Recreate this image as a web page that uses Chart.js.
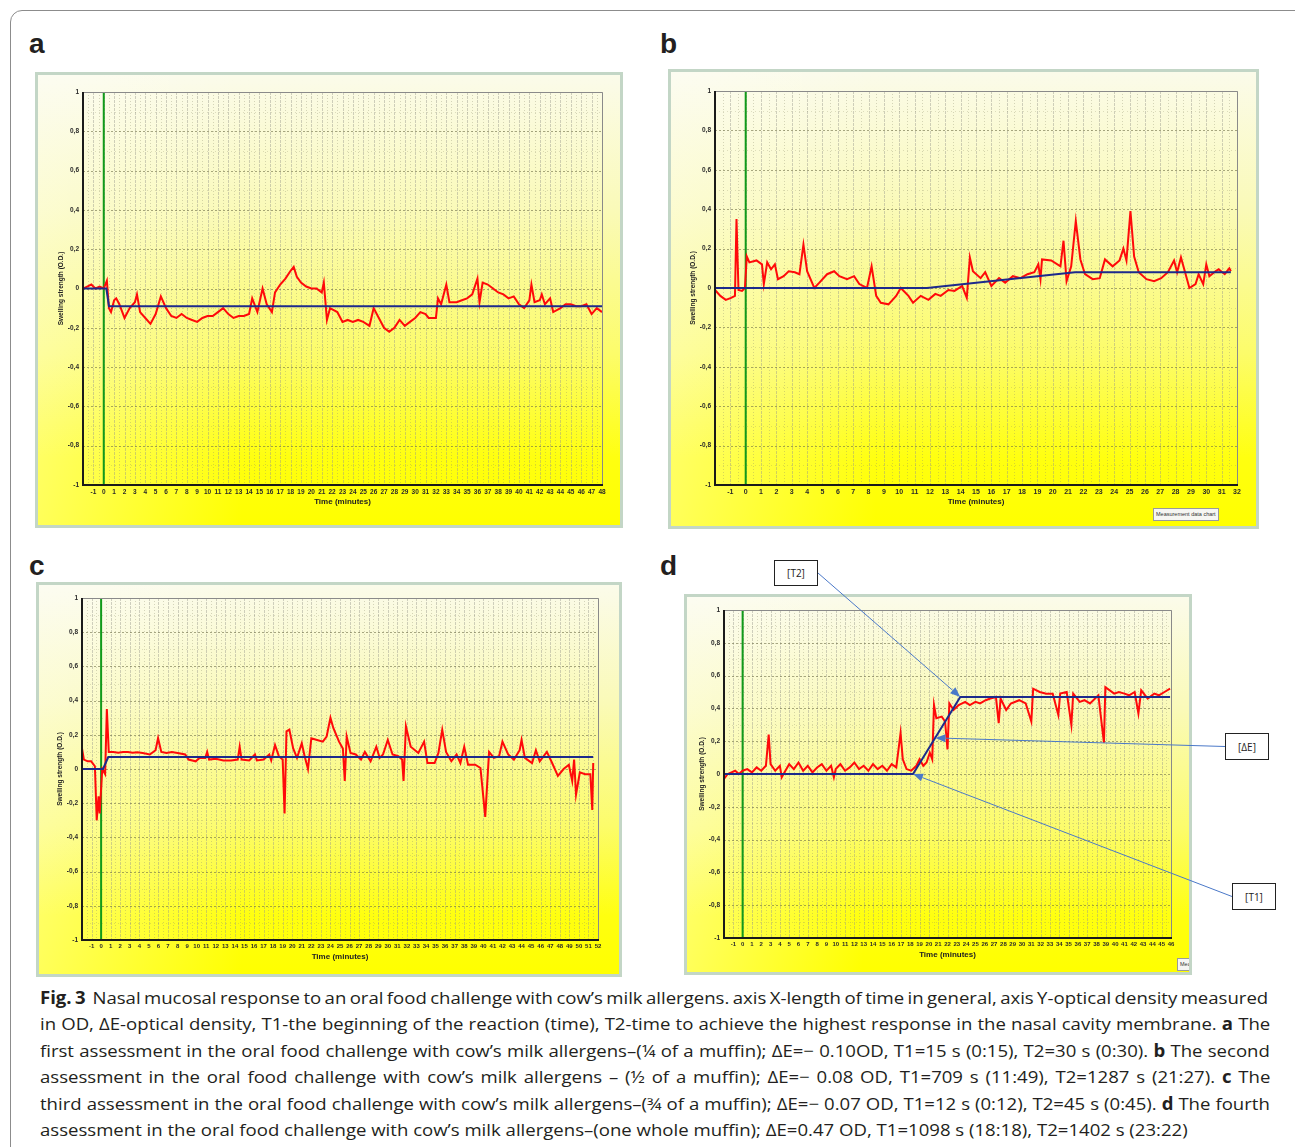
<!DOCTYPE html>
<html>
<head>
<meta charset="utf-8">
<script src="https://cdn.jsdelivr.net/npm/chart.js@4.4.1/dist/chart.umd.min.js"></script>
<style>
  body { margin: 0; background: #fff; width: 1295px; height: 1147px; position: relative; overflow: hidden; font-family: 'Open Sans', sans-serif; }
  .figbox { position: absolute; left: 10px; top: 10px; width: 1300px; height: 1200px; border: 1px solid #8c8c8c; border-radius: 12px; }
  .letter { position: absolute; font: bold 28px 'Liberation Sans', Arial, sans-serif; color: #231f20; line-height: 1; }
  .panel { position: absolute; box-sizing: border-box; border: 3px solid #c3d6c6; overflow: hidden;
    background:
      linear-gradient(to right, rgba(255,255,255,0.35), rgba(255,255,255,0) 35%),
      linear-gradient(to bottom, #fbfbea 0%, #fafab8 30%, #fcfc6a 62%, #ffff10 85%, #ffff00 100%); }
  .panel canvas { position: absolute; left: 0; top: 0; }
  .tag { position: absolute; box-sizing: border-box; background: #fff; border: 1px solid #222; font: 10px 'Open Sans', sans-serif; color: #222;
    display: flex; align-items: center; justify-content: center; z-index: 6; }
  .mdc { position: absolute; box-sizing: border-box; background: #f6f6f2; border: 1px solid #9a9a9a; font: 5.5px 'Liberation Sans', sans-serif; color: #333;
    line-height: 11px; padding: 0 2px; white-space: nowrap; }
  .cap { position: absolute; left: 40px; white-space: nowrap; font-size: 17px; color: #231f20; transform-origin: 0 50%; line-height: 24px; }
  #overlay { position: absolute; left: 0; top: 0; pointer-events: none; z-index: 5; }
</style>
</head>
<body>
<div class="figbox"></div>

<div class="letter" style="left:29px; top:30px;">a</div>
<div class="letter" style="left:660px; top:30px;">b</div>
<div class="letter" style="left:29px; top:552px;">c</div>
<div class="letter" style="left:660px; top:552px;">d</div>

<div class="panel" id="panel-a"><canvas></canvas></div>
<div class="panel" id="panel-b"><canvas></canvas></div>
<div class="panel" id="panel-c"><canvas></canvas></div>
<div class="panel" id="panel-d"><canvas></canvas><div class="mdc" style="left:490px; top:361px;">Measurement data chart</div></div>

<div class="mdc" style="left:1153px; top:508px;">Measurement data chart</div>

<div class="tag" id="tagT2" style="left:774px; top:560px; width:44px; height:26px;">[T2]</div>
<div class="tag" id="tagDE" style="left:1225px; top:733px; width:44px; height:27px;">[ΔE]</div>
<div class="tag" id="tagT1" style="left:1232px; top:883px; width:44px; height:27px;">[T1]</div>

<canvas id="overlay" width="1295" height="1147"></canvas>

<div class="cap" style="top:986px;"><b>Fig. 3</b>&nbsp; Nasal mucosal response to an oral food challenge with cow’s milk allergens. axis X-length of time in general, axis Y-optical density measured</div>
<div class="cap" style="top:1012px;">in OD, ΔE-optical density, T1-the beginning of the reaction (time), T2-time to achieve the highest response in the nasal cavity membrane. <b>a</b> The</div>
<div class="cap" style="top:1039px;">first assessment in the oral food challenge with cow’s milk allergens–(¼ of a muffin); ΔE=− 0.10OD, T1=15 s (0:15), T2=30 s (0:30). <b>b</b> The second</div>
<div class="cap" style="top:1065px;">assessment in the oral food challenge with cow’s milk allergens – (½ of a muffin); ΔE=− 0.08 OD, T1=709 s (11:49), T2=1287 s (21:27). <b>c</b> The</div>
<div class="cap" style="top:1092px;">third assessment in the oral food challenge with cow’s milk allergens–(¾ of a muffin); ΔE=− 0.07 OD, T1=12 s (0:12), T2=45 s (0:45). <b>d</b> The fourth</div>
<div class="cap" style="top:1118px;">assessment in the oral food challenge with cow’s milk allergens–(one whole muffin); ΔE=0.47 OD, T1=1098 s (18:18), T2=1402 s (23:22)</div>

<script>
// ---- panel a ----
const aTime = [-2, -1.6, -1.2, -0.8, -0.4, 0, 0.3, 0.5, 0.7, 1.0, 1.2, 1.5, 2.0, 2.5, 3.0, 3.2, 3.5, 4.0, 4.5, 5.0,
  5.5, 6.0, 6.5, 7.0, 7.5, 8.0, 8.5, 9.0, 9.5, 10.0, 10.5, 11.0, 11.5, 12.0, 12.5, 13.0, 13.5, 14.0, 14.3, 14.8,
  15.3, 15.7, 16.2, 16.5, 17.0, 17.5, 18.0, 18.3, 18.6, 19.0, 19.5, 20.0, 20.5, 21.0, 21.2, 21.5, 21.8, 22.5, 23.0, 23.5,
  24.0, 24.5, 25.0, 25.6, 26.0, 26.5, 27.0, 27.5, 28.0, 28.5, 29.0, 29.5, 30.0, 30.5, 31.0, 31.3, 32.0, 32.2, 32.5, 33.0,
  33.3, 34.0, 34.5, 35.0, 35.5, 36.0, 36.2, 36.5, 37.0, 37.5, 38.0, 38.5, 39.0, 39.5, 40.0, 40.5, 41.0, 41.2, 41.5, 42.0,
  42.2, 42.5, 43.0, 43.3, 44.0, 44.5, 45.0, 45.5, 46.0, 46.5, 47.0, 47.5, 48.0];
const aRed = [0.0, 0.01, 0.02, 0.0, 0.01, 0.0, 0.04, -0.1, -0.12, -0.06, -0.05, -0.08, -0.15, -0.1, -0.07, -0.03, -0.12, -0.15, -0.18, -0.13,
  -0.04, -0.1, -0.14, -0.15, -0.13, -0.15, -0.16, -0.17, -0.15, -0.14, -0.14, -0.12, -0.1, -0.13, -0.15, -0.14, -0.14, -0.13, -0.05, -0.12,
  0.0, -0.08, -0.12, -0.02, 0.02, 0.05, 0.09, 0.11, 0.06, 0.03, 0.01, 0.0, 0.0, -0.02, 0.03, -0.16, -0.1, -0.12, -0.17, -0.16,
  -0.17, -0.16, -0.17, -0.19, -0.1, -0.15, -0.2, -0.22, -0.2, -0.16, -0.19, -0.17, -0.15, -0.12, -0.13, -0.15, -0.15, -0.05, -0.08, 0.02,
  -0.07, -0.07, -0.06, -0.05, -0.03, 0.05, -0.07, 0.03, 0.02, 0.0, -0.02, -0.03, -0.05, -0.04, -0.08, -0.1, -0.06, 0.02, -0.07, -0.06,
  -0.03, -0.08, -0.05, -0.12, -0.1, -0.08, -0.08, -0.09, -0.09, -0.08, -0.13, -0.1, -0.12];
const aFitTime = [-2, 0.25, 0.5, 48];
const aFit = [0, 0, -0.09, -0.09];

// ---- panel b ----
const bTime = [-2, -1.65, -1.3, -0.95, -0.7, -0.6, -0.47, -0.24, -0.05, 0.07, 0.24, 0.7, 1.06, 1.18, 1.4, 1.65, 1.9, 2.1, 2.47, 2.8,
  3.2, 3.5, 3.76, 4.0, 4.47, 4.8, 5.3, 5.76, 6.1, 6.6, 7.06, 7.4, 7.9, 8.2, 8.5, 8.8, 9.3, 9.8, 10.1, 10.6,
  10.9, 11.4, 11.9, 12.35, 12.7, 13.2, 13.6, 14.1, 14.4, 14.6, 14.8, 15.3, 15.6, 16.0, 16.5, 16.9, 17.4, 17.9, 18.35, 18.8,
  19.06, 19.2, 19.3, 19.9, 20.5, 20.7, 20.9, 21.2, 21.5, 21.8, 22.1, 22.6, 23.06, 23.4, 23.9, 24.35, 24.6, 24.8, 25.06, 25.3,
  25.6, 26.1, 26.6, 27.06, 27.5, 27.9, 28.1, 28.35, 28.6, 28.9, 29.3, 29.5, 29.8, 30.0, 30.2, 30.6, 30.8, 31.2, 31.5, 31.6];
const bRed = [-0.01, -0.04, -0.06, -0.05, -0.04, 0.35, -0.01, -0.015, 0.0, 0.16, 0.13, 0.14, 0.12, 0.02, 0.13, 0.095, 0.12, 0.045, 0.06, 0.085,
  0.08, 0.07, 0.22, 0.085, 0.0, 0.027, 0.07, 0.085, 0.06, 0.045, 0.06, 0.02, 0.0, 0.11, -0.04, -0.075, -0.083, -0.04, 0.0, -0.04,
  -0.075, -0.04, -0.06, -0.03, -0.04, -0.01, -0.015, 0.01, -0.05, 0.155, 0.085, 0.05, 0.08, 0.01, 0.05, 0.027, 0.06, 0.05, 0.07, 0.08,
  0.12, 0.045, 0.145, 0.14, 0.11, 0.24, 0.035, 0.11, 0.34, 0.145, 0.07, 0.045, 0.05, 0.145, 0.11, 0.14, 0.2, 0.14, 0.39, 0.16,
  0.08, 0.045, 0.035, 0.05, 0.08, 0.14, 0.08, 0.155, 0.085, 0.0, 0.02, 0.07, 0.02, 0.12, 0.06, 0.085, 0.095, 0.07, 0.1, 0.085];
const bFitTime = [-2, 11.8, 21.45, 31.6];
const bFit = [0, 0, 0.08, 0.08];

// ---- panel c ----
const cTime = [-2, -1.8, -1.4, -1.04, -0.65, -0.46, -0.27, -0.15, 0.12, 0.42, 0.6, 0.8, 1.27, 1.8, 2.3, 2.8, 3.3, 3.8, 4.35, 5.1,
  5.7, 5.96, 6.3, 6.85, 7.4, 8.0, 8.8, 9.15, 9.9, 10.3, 10.9, 11.1, 11.3, 12.0, 12.8, 13.6, 14.3, 14.5, 14.7, 15.5,
  16.1, 16.3, 17.0, 17.6, 17.8, 18.2, 18.6, 19.0, 19.2, 19.4, 19.7, 20.1, 20.5, 21.0, 21.3, 21.65, 22.0, 22.6, 23.2, 23.6,
  24.0, 24.3, 24.9, 25.3, 25.5, 25.7, 26.1, 26.65, 27.2, 27.6, 28.2, 28.8, 29.15, 29.5, 30.0, 30.5, 31.1, 31.5, 31.65, 31.9,
  32.4, 33.2, 33.8, 34.15, 34.9, 35.3, 35.7, 36.1, 36.65, 37.2, 37.6, 38.0, 38.4, 39.15, 39.7, 40.2, 40.6, 41.1, 41.65, 42.0,
  42.6, 43.2, 43.8, 44.0, 44.35, 45.1, 45.5, 45.9, 46.65, 47.2, 47.8, 48.4, 48.95, 49.3, 49.5, 49.7, 50.1, 50.65, 51.2, 51.4,
  51.5];
const cRed = [0.12, 0.055, 0.045, 0.045, 0.016, -0.3, -0.16, -0.26, 0.0, -0.03, 0.35, 0.1, 0.1, 0.095, 0.1, 0.1, 0.095, 0.098, 0.094, 0.085,
  0.11, 0.18, 0.1, 0.094, 0.1, 0.094, 0.085, 0.055, 0.045, 0.065, 0.065, 0.1, 0.055, 0.06, 0.05, 0.05, 0.055, 0.13, 0.055, 0.05,
  0.085, 0.05, 0.055, 0.085, 0.05, 0.14, 0.075, 0.055, -0.26, 0.22, 0.23, 0.12, 0.065, 0.15, 0.075, 0.0, 0.18, 0.17, 0.16, 0.19,
  0.3, 0.24, 0.16, 0.12, -0.07, 0.19, 0.094, 0.085, 0.055, 0.1, 0.045, 0.13, 0.065, 0.085, 0.17, 0.085, 0.075, 0.055, -0.07, 0.25,
  0.13, 0.094, 0.16, 0.035, 0.035, 0.094, 0.23, 0.1, 0.045, 0.085, 0.035, 0.13, 0.025, 0.025, 0.006, -0.28, 0.1, 0.065, 0.075, 0.16,
  0.085, 0.055, 0.11, 0.17, 0.065, 0.035, 0.11, 0.045, 0.1, 0.035, -0.04, 0.0, 0.025, -0.07, 0.055, -0.15, -0.02, -0.03, -0.03, -0.24,
  0.035];
const cFitTime = [-2, 0.2, 0.75, 51.5];
const cFit = [0, 0, 0.07, 0.07];

// ---- panel d ----
const dTime = [-2, -1.6, -1.2, -0.8, -0.4, 0, 0.5, 1, 1.5, 2, 2.5, 2.8, 3.0, 3.5, 4, 4.2, 4.5, 5, 5.5, 6,
  6.5, 7, 7.5, 8, 8.5, 9, 9.5, 9.8, 10, 10.5, 11, 11.5, 12, 12.5, 13, 13.5, 14, 14.5, 15, 15.5,
  16, 16.5, 16.96, 17.2, 17.6, 18.1, 18.66, 19.0, 19.4, 19.75, 20.1, 20.36, 20.55, 20.8, 21.38, 21.74, 22.0, 22.2, 22.65, 23.2,
  23.9, 24.4, 25.0, 25.5, 26.1, 26.6, 27.2, 27.5, 27.7, 28.3, 28.8, 29.7, 30.4, 31.0, 31.2, 31.9, 32.6, 33.3, 33.9, 34.1,
  34.8, 35.3, 35.5, 36.2, 36.7, 37.3, 38.2, 38.8, 38.95, 39.9, 40.4, 41.0, 41.5, 42.1, 42.5, 42.8, 43.5, 44.2, 44.7, 45.3,
  45.9];
const dRed = [-0.03, 0.0, 0.01, 0.02, 0.0, 0.02, 0.03, 0.01, 0.04, 0.02, 0.05, 0.24, 0.06, 0.02, 0.05, -0.02, 0.01, 0.06, 0.03, 0.07,
  0.02, 0.05, 0.01, 0.04, 0.06, 0.02, 0.05, -0.02, 0.03, 0.06, 0.02, 0.04, 0.07, 0.03, 0.05, 0.02, 0.06, 0.03, 0.05, 0.02,
  0.06, 0.04, 0.25, 0.09, 0.03, 0.02, 0.05, 0.09, 0.05, 0.07, 0.13, 0.09, 0.42, 0.34, 0.35, 0.32, 0.15, 0.43, 0.39, 0.42,
  0.44, 0.42, 0.44, 0.43, 0.45, 0.46, 0.47, 0.31, 0.46, 0.39, 0.43, 0.45, 0.43, 0.32, 0.52, 0.5, 0.49, 0.49, 0.36, 0.49,
  0.5, 0.3, 0.49, 0.44, 0.45, 0.43, 0.48, 0.19, 0.53, 0.49, 0.5, 0.49, 0.48, 0.5, 0.37, 0.51, 0.46, 0.49, 0.48, 0.5,
  0.52];
const dFitTime = [-2, 18.3, 23.37, 45.9];
const dFit = [0, 0, 0.47, 0.47];

// x axis ends (minutes) and the callouts of panel d
const xMaxes = { a: 48, b: 32, c: 52, d: 46 };
const callouts = [
  { id: 'tagT2', from: 'right', at: [23.37, 0.47] },
  { id: 'tagDE', from: 'left', at: [20.7, 0.22] },
  { id: 'tagT1', from: 'left', at: [18.3, 0] },
];

// frame box and plot box on the page: [left, top, width, height] / [left, top, right, bottom]
const panels = [
  { id: 'a', frame: [35, 72, 588, 456], plot: [83, 92, 602, 485], time: aTime, red: aRed, fitTime: aFitTime, fit: aFit, tickSize: 6.5 },
  { id: 'b', frame: [668, 69, 591, 460], plot: [715, 91, 1237, 485], time: bTime, red: bRed, fitTime: bFitTime, fit: bFit, tickSize: 7 },
  { id: 'c', frame: [36, 582, 586, 395], plot: [82, 598, 598, 940], time: cTime, red: cRed, fitTime: cFitTime, fit: cFit, tickSize: 6 },
  { id: 'd', frame: [684, 594, 508, 381], plot: [724, 610, 1171, 938], time: dTime, red: dRed, fitTime: dFitTime, fit: dFit, tickSize: 6 },
];

const Y_W = 26;
const X_H = 24;

Chart.defaults.font.family = "'Liberation Sans', Arial, sans-serif";

function toPoints(xs, ys) {
  return xs.map((x, i) => ({ x: x, y: ys[i] }));
}

const gridPlugin = {
  id: 'oldGrid',
  beforeDatasetsDraw(chart) {
    const { ctx, chartArea: area, scales: { x, y } } = chart;
    ctx.save();
    ctx.lineWidth = 1;
    for (let i = 0; x.min + i * 0.5 <= x.max + 1e-9; i++) {
      const v = x.min + i * 0.5;
      const px = Math.round(x.getPixelForValue(v)) + 0.5;
      const whole = i % 2 === 0;
      ctx.strokeStyle = whole ? 'rgba(150,150,140,0.45)' : 'rgba(140,140,110,0.35)';
      ctx.setLineDash(whole ? [3, 1] : [1, 2]);
      ctx.beginPath();
      ctx.moveTo(px, area.top);
      ctx.lineTo(px, area.bottom);
      ctx.stroke();
    }
    for (let i = -10; i <= 10; i++) {
      const py = Math.round(y.getPixelForValue(i / 10)) + 0.5;
      const major = i % 2 === 0;
      ctx.strokeStyle = major ? 'rgba(110,110,70,0.6)' : 'rgba(130,130,90,0.25)';
      ctx.setLineDash(major ? [2, 2] : [1, 3]);
      ctx.beginPath();
      ctx.moveTo(area.left, py);
      ctx.lineTo(area.right, py);
      ctx.stroke();
    }
    ctx.restore();
  },
  afterDatasetsDraw(chart) {
    const { ctx, chartArea: area } = chart;
    ctx.save();
    ctx.strokeStyle = '#8a8a8a';
    ctx.lineWidth = 1;
    ctx.beginPath();
    ctx.moveTo(area.left, area.top + 0.5);
    ctx.lineTo(area.right + 0.5, area.top + 0.5);
    ctx.lineTo(area.right + 0.5, area.bottom);
    ctx.stroke();
    ctx.strokeStyle = '#1a1a1a';
    ctx.lineWidth = 2;
    ctx.beginPath();
    ctx.moveTo(area.left, area.top);
    ctx.lineTo(area.left, area.bottom);
    ctx.lineTo(area.right + 1, area.bottom);
    ctx.stroke();
    ctx.restore();
  },
};

function drawArrow(ctx, sx, sy, tx, ty) {
  const ang = Math.atan2(ty - sy, tx - sx);
  const head = 10;
  const bx = tx - head * Math.cos(ang);
  const by = ty - head * Math.sin(ang);
  ctx.strokeStyle = '#4a78c8';
  ctx.fillStyle = '#4a78c8';
  ctx.lineWidth = 1;
  ctx.beginPath();
  ctx.moveTo(sx, sy);
  ctx.lineTo(bx, by);
  ctx.stroke();
  ctx.beginPath();
  ctx.moveTo(tx, ty);
  ctx.lineTo(bx + 4 * Math.sin(ang), by - 4 * Math.cos(ang));
  ctx.lineTo(bx - 4 * Math.sin(ang), by + 4 * Math.cos(ang));
  ctx.closePath();
  ctx.fill();
}

const calloutPlugin = {
  id: 'callouts',
  afterDraw(chart) {
    const r = chart.canvas.getBoundingClientRect();
    const { x, y } = chart.scales;
    const ov = document.getElementById('overlay').getContext('2d');
    ov.clearRect(0, 0, 1295, 1147);
    callouts.forEach((c) => {
      const box = document.getElementById(c.id).getBoundingClientRect();
      const sx = c.from === 'right' ? box.right : box.left;
      const sy = box.top + box.height / 2;
      const tx = r.left + x.getPixelForValue(c.at[0]);
      const ty = r.top + y.getPixelForValue(c.at[1]);
      drawArrow(ov, sx, sy, tx, ty);
    });
  },
};

function renderPanel(p) {
  const frame = document.getElementById('panel-' + p.id);
  const [fl, ft, fw, fh] = p.frame;
  frame.style.left = fl + 'px';
  frame.style.top = ft + 'px';
  frame.style.width = fw + 'px';
  frame.style.height = fh + 'px';

  const cx = fl + 3, cy = ft + 3, cw = fw - 6, ch = fh - 6;
  const canvas = frame.querySelector('canvas');
  canvas.width = cw;
  canvas.height = ch;

  const [pl, pt, pr, pb] = p.plot;
  const xMax = xMaxes[p.id];

  const config = {
    type: 'line',
    data: {
      datasets: [
        { data: toPoints(p.fitTime, p.fit), borderColor: '#1c2a8c', borderWidth: 2, order: 0 },
        { data: toPoints(p.time, p.red), borderColor: '#ff0a0a', borderWidth: 2, order: 1 },
        { data: toPoints([0, 0], [-1, 1]), borderColor: '#119a1a', borderWidth: 2, order: 2 },
      ],
    },
    options: {
      responsive: false,
      animation: false,
      devicePixelRatio: 1,
      elements: { point: { radius: 0 }, line: { tension: 0 } },
      layout: {
        padding: { left: pl - cx - Y_W, top: pt - cy, right: cx + cw - pr, bottom: cy + ch - pb - X_H },
      },
      plugins: { legend: { display: false }, tooltip: { enabled: false } },
      scales: {
        x: {
          type: 'linear',
          min: -2,
          max: xMax,
          grid: { display: false, drawTicks: false },
          border: { display: false },
          ticks: {
            stepSize: 1,
            autoSkip: false,
            maxRotation: 0,
            minRotation: 0,
            padding: 3,
            color: '#2a2a2a',
            font: { size: p.tickSize, weight: 'bold' },
            callback: (v) => (v < -1 ? '' : v),
          },
          title: { display: true, text: 'Time (minutes)', color: '#222', font: { size: 8, weight: 'bold' }, padding: { top: 0, bottom: 2 } },
          afterFit: (scale) => { scale.height = X_H; },
        },
        y: {
          min: -1,
          max: 1,
          grid: { display: false, drawTicks: false },
          border: { display: false },
          ticks: {
            stepSize: 0.2,
            padding: 4,
            color: '#2a2a2a',
            font: { size: 6.5, weight: 'bold' },
            callback: (v) => String(Math.round(v * 10) / 10).replace('.', ','),
          },
          title: { display: true, text: 'Swelling strength (O.D.)', color: '#222', font: { size: 6.5, weight: 'bold' }, padding: 0 },
          afterFit: (scale) => { scale.width = Y_W; },
        },
      },
    },
    plugins: p.id === 'd' ? [gridPlugin, calloutPlugin] : [gridPlugin],
  };

  new Chart(canvas, config);
}

panels.forEach(renderPanel);

// fit caption lines: condense the font a little and justify the full lines
const capLines = Array.from(document.querySelectorAll('.cap'));
const lastLine = capLines[capLines.length - 1];
const squeeze = 1148 / lastLine.offsetWidth;
capLines.forEach((el, i) => {
  if (i < capLines.length - 1) {
    const spaces = (el.textContent.match(/ /g) || []).length;
    const extra = (1230 / squeeze - el.offsetWidth) / spaces;
    el.style.wordSpacing = extra + 'px';
  }
  el.style.transform = 'scaleX(' + squeeze + ')';
});
</script>
</body>
</html>
